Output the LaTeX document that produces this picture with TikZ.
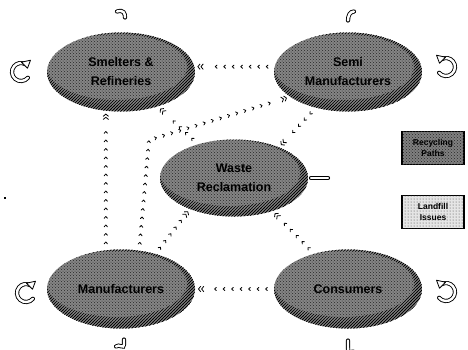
\documentclass[tikz,border=0pt]{standalone}
\usepackage{fontspec}
\setmainfont{Liberation Sans}
\usetikzlibrary{shapes.geometric,patterns,decorations.markings,arrows.meta,calc}
% small chevron repeated along the recycling paths
\newcommand\rchev{\draw[line width=0.8pt,line cap=round,line join=round] (-1.4pt,1.6pt)--(0.4pt,0pt)--(-1.4pt,-1.6pt);}
\begin{document}
\begin{tikzpicture}[x=1pt,y=-1pt,
  dither/.style={pattern=crosshatch dots, pattern color=black!85},
  phase/.style={ellipse, minimum width=148pt, minimum height=79pt, inner sep=0pt, outer sep=3pt,
    fill=black!48, font=\bfseries\fontsize{12.5}{19}\selectfont, align=center,
    path picture={
      \fill[dither] (path picture bounding box.south west) rectangle (path picture bounding box.north east);
      \fill[pattern=north east lines, pattern color=black, even odd rule]
        (path picture bounding box.south west) rectangle (path picture bounding box.north east)
        ($(path picture bounding box.center)+(-4pt,5pt)$) ellipse [x radius=70pt, y radius=33pt];
      \fill[pattern=north east lines, pattern color=black, even odd rule]
        (path picture bounding box.south west) rectangle (path picture bounding box.north east)
        ($(path picture bounding box.center)+(-3pt,3pt)$) ellipse [x radius=71pt, y radius=36pt];}},
  recycle/.style={decoration={markings,
      mark=between positions 5pt and -10pt step 8.5pt with {\rchev},
      mark=at position 1 with {\arrow[line width=0.8pt]{Straight Barb[length=2.2pt,width=5.5pt] Straight Barb[length=2.2pt,width=5.5pt]}}},
    postaction={decorate}},
  hollow/.style={draw=black, line width=0.9pt, double=white, double distance=2.4pt, line cap=round},
  tiphead/.style={draw=black, fill=white, line width=0.8pt, line join=round},
  legendbox/.style={draw=black, line width=1.3pt, minimum width=62pt, minimum height=33pt, inner sep=1pt,
    align=center, font=\bfseries\fontsize{8.5}{11}\selectfont}
]
\useasboundingbox (0,0) rectangle (468,349);

% life-cycle stages
\node[phase] (sm)  at (121,72)  {Smelters \&\\Refineries};
\node[phase] (sem) at (348,72)  {Semi\\Manufacturers};
\node[phase, minimum height=77pt] (wr) at (234,178) {Waste\\Reclamation};
\node[phase] (mf)  at (121,289) {Manufacturers};
\node[phase] (cs)  at (348,289) {Consumers};

% legend
\node[legendbox, fill=black!50, postaction={dither}] (lgr) at (433,148) {Recycling\\Paths};
\node[legendbox, fill=gray!20, postaction={pattern=dots, pattern color=black!75}] (lgl) at (433,212) {Landfill\\Issues};

% recycling paths
\path[recycle] (sem.176) -- (sm.4);
\path[recycle] (mf.110) -- (sm.-110);
\coordinate (bend) at (149,140);
\path[recycle] (mf.66) -- (bend) -- (sem.203);
\path[recycle] (wr) -- (sm);
\path[recycle] (sem.228) -- (wr.35);
\path[recycle] (mf.46) -- (wr.216);
\path[recycle] (cs.134) -- (wr.-41);
\path[recycle] (cs.west) -- (mf.east);

% flow out of waste reclamation
\coordinate (wout) at ($(wr.east)+(17,0)$);
\draw[hollow] (wr.east) -- (wout);

% in-house loops
\coordinate (lsm) at ($(sm.west)+(-23,0)$);
\coordinate (lmf) at ($(mf.west)+(-18,4)$);
\coordinate (lsem) at ($(sem.east)+(21,-5)$);
\coordinate (lcs) at ($(cs.east)+(21,3)$);
\foreach \c in {lsm,lmf}{
  \draw[hollow] (\c) ++(40:9) arc[start angle=40, end angle=300, radius=9];
  \draw[tiphead] ($(\c)+(300:9)+(-4,-2)$) -- ($(\c)+(300:9)+(5,-4)$) -- ($(\c)+(300:9)+(2,4)$) -- cycle;
}
\foreach \c in {lsem,lcs}{
  \draw[hollow] (\c) ++(140:9) arc[start angle=140, end angle=-120, radius=9];
  \draw[tiphead] ($(\c)+(240:9)+(4,-2)$) -- ($(\c)+(240:9)+(-5,-4)$) -- ($(\c)+(240:9)+(-2,4)$) -- cycle;
}

% landfill outlets
\draw[hollow] ($(sm.north)+(-4,-18)$) .. controls +(7,-2) and +(0,-4) .. +(8,6);
\draw[hollow] ($(sem.north)+(0,-9)$) .. controls +(0,-5) and +(-4,0) .. +(6,-9);
\draw[hollow] ($(mf.south)+(-5,15)$) .. controls +(3,-3) and +(0,5) .. +(8,-2) -- +(8,-7);
\draw[hollow] ($(cs.south)+(0,9)$) -- +(0,6) .. controls +(0,10) and +(-3,0) .. +(5,11);

% speck
\fill (4,197) rectangle (6,199);
\end{tikzpicture}
\end{document}
